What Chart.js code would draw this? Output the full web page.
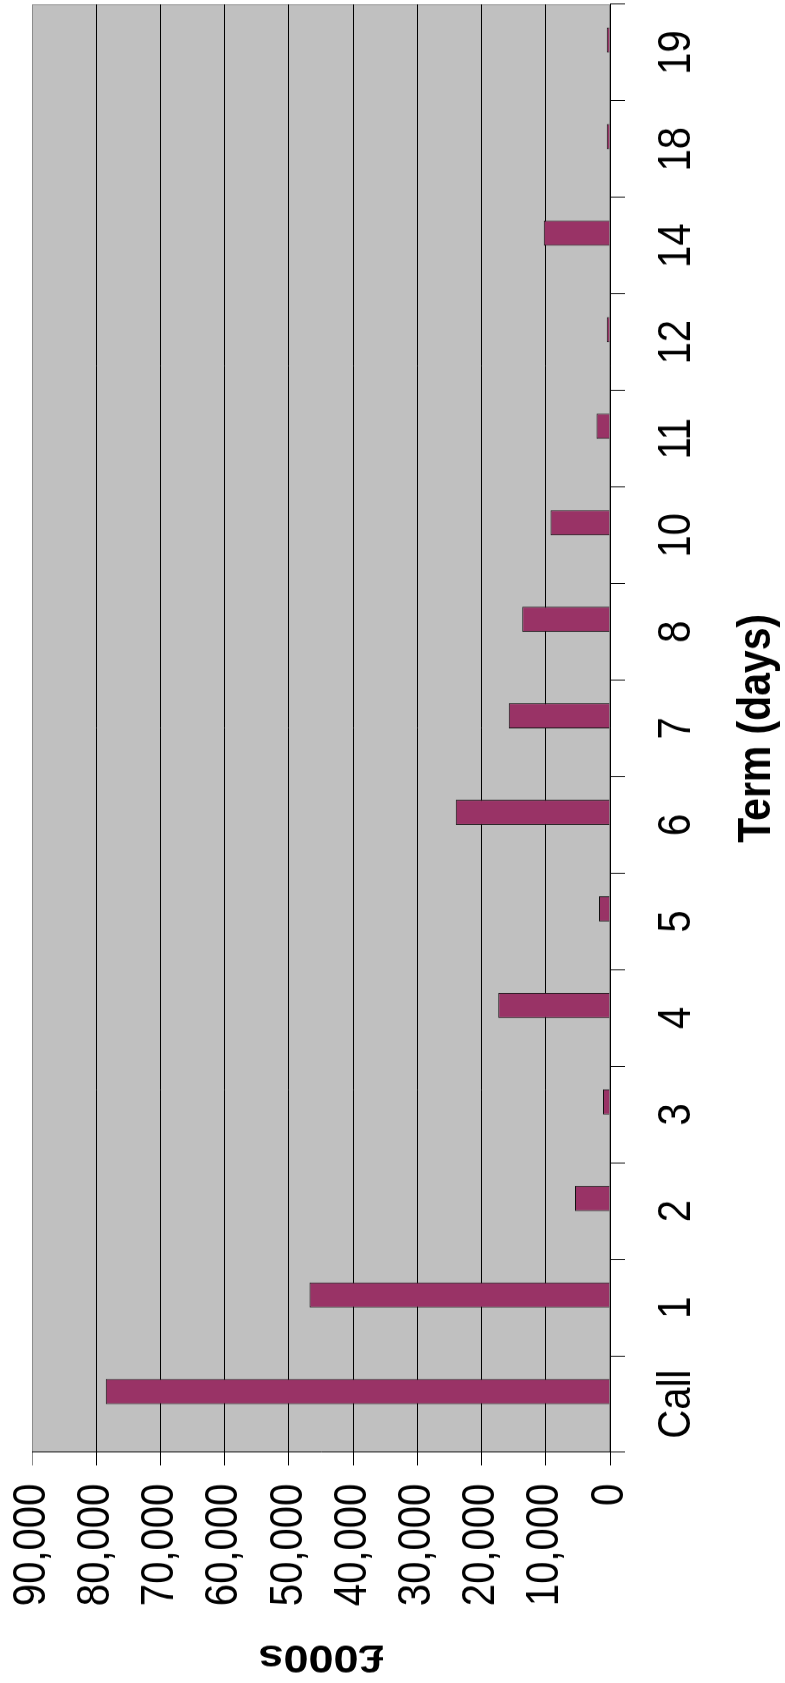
<!DOCTYPE html>
<html>
<head>
<meta charset="utf-8">
<script src="https://cdn.jsdelivr.net/npm/chart.js@4/dist/chart.umd.min.js"></script>
<style>
  html, body { margin: 0; padding: 0; background: #ffffff; overflow: hidden; }
  #page { position: relative; width: 785px; height: 1683px; }
  /* The chart is laid out landscape and turned a quarter turn so the
     term axis runs up the right-hand side of the page. */
  #chart {
    position: absolute; left: 0; top: 0;
    width: 1683px; height: 785px;
    transform-origin: 0 0;
    transform: translateY(1683px) rotate(-90deg);
  }
</style>
</head>
<body>
<div id="page">
  <canvas id="chart" width="1934" height="785" style="width:1683px;height:785px"></canvas>
</div>
<script>
// Deposit term buckets
const terms = ['Call', '1', '2', '3', '4', '5', '6', '7', '8', '10', '11', '12', '14', '18', '19'];
// Balances per term, £000s
const balances = [78500, 46800, 5450, 1100, 17400, 1700, 24000, 15750, 13650, 9250, 2100, 500, 10300, 500, 500];
// Value axis range and step
const valueMin = 0;
const valueMax = 90000;
const valueStep = 10000;
// Axis titles
const termTitle = 'Term (days)';
const valueTitle = '£000s';

const FONT = "'Liberation Sans', Arial, Helvetica, sans-serif";

// Silver plot area with a grey frame behind the bars
const plotBackground = {
  id: 'plotBackground',
  beforeDraw(chart) {
    const { ctx, chartArea: a } = chart;
    ctx.save();
    ctx.fillStyle = '#c0c0c0';
    ctx.fillRect(a.left, a.top, a.right - a.left, a.bottom - a.top);
    ctx.strokeStyle = '#8c8c8c';
    ctx.lineWidth = 1;
    ctx.strokeRect(Math.round(a.left) + 0.5, Math.round(a.top) + 0.5,
                   Math.round(a.right - a.left) - 1, Math.round(a.bottom - a.top) - 1);
    ctx.restore();
  }
};

new Chart(document.getElementById('chart'), {
  type: 'bar',
  data: {
    labels: terms,
    datasets: [
      {
        // empty first slot keeps each bar on the right half of its bucket
        label: 'spacer',
        data: terms.map(() => null),
        backgroundColor: 'rgba(0,0,0,0)',
        borderWidth: 0
      },
      {
        label: valueTitle,
        data: balances,
        backgroundColor: '#993366',
        borderColor: '#111111',
        borderWidth: 1,
        borderSkipped: 'bottom'
      }
    ]
  },
  options: {
    responsive: false,
    animation: false,
    devicePixelRatio: 1,
    layout: { padding: { top: 32, right: 5, bottom: 0, left: 0 } },
    datasets: {
      bar: { categoryPercentage: 0.52, barPercentage: 1.0 }
    },
    plugins: {
      legend: { display: false },
      tooltip: { enabled: false },
      title: { display: false }
    },
    scales: {
      x: {
        type: 'category',
        grid: {
          offset: true,
          drawOnChartArea: false,
          drawTicks: true,
          tickLength: 15,
          color: '#000000',
          lineWidth: 1
        },
        border: { display: true, color: '#000000', width: 1 },
        ticks: {
          color: '#000000',
          font: { family: FONT, size: 46 },
          padding: 25,
          autoSkip: false,
          maxRotation: 0,
          minRotation: 0
        },
        title: {
          display: true,
          text: termTitle,
          color: '#000000',
          font: { family: FONT, size: 47, weight: 'bold' },
          padding: { top: 0, bottom: 0 }
        },
        afterFit(scale) {
          scale.height = 175;
          scale.paddingLeft = 0;
          scale.paddingRight = 0;
        }
      },
      y: {
        type: 'linear',
        min: valueMin,
        max: valueMax,
        grid: {
          drawOnChartArea: true,
          drawTicks: true,
          tickLength: 15,
          color: (c) => (c.tick && c.tick.value === valueMax ? '#8c8c8c' : '#000000'),
          lineWidth: 1
        },
        border: { display: true, color: '#000000', width: 1 },
        ticks: {
          stepSize: valueStep,
          color: '#000000',
          font: { family: FONT, size: 46 },
          padding: 21
        },
        title: {
          display: true,
          text: valueTitle,
          color: '#000000',
          font: { family: FONT, size: 45, weight: 'bold' },
          padding: { top: 4, bottom: 0 }
        },
        afterFit(scale) {
          scale.width = 265;
          scale.paddingTop = 0;
          scale.paddingBottom = 0;
        }
      }
    }
  },
  plugins: [plotBackground]
});
</script>
</body>
</html>
